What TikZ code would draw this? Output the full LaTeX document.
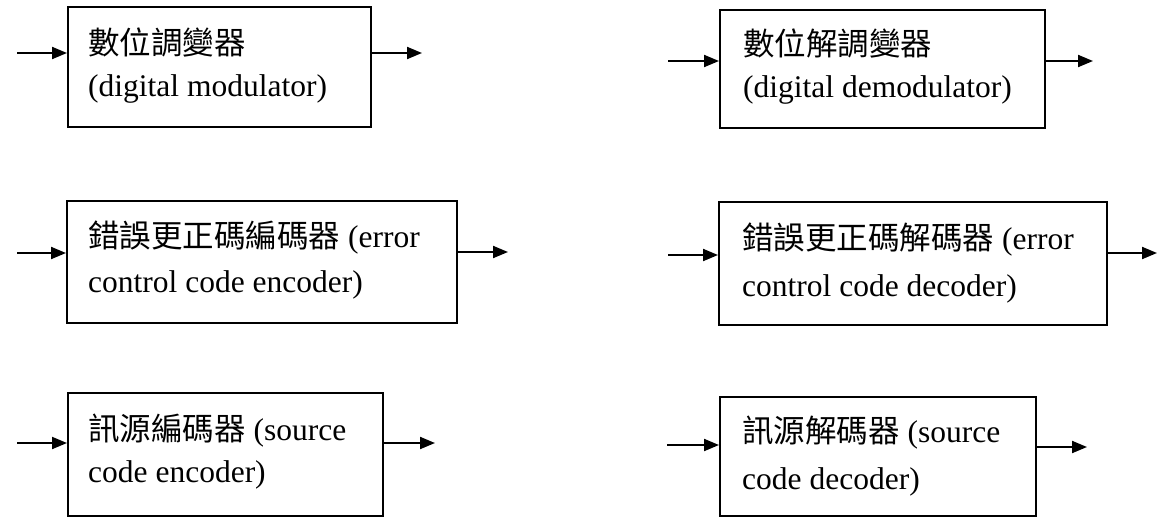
\documentclass[tikz,border=0pt]{standalone}
\usepackage{fontspec}
\setmainfont{Liberation Serif}
\newfontfamily\cjk{Noto Sans CJK TC}
\usetikzlibrary{arrows.meta}
\begin{document}
\begin{tikzpicture}[x=1pt,y=-1pt,
  blk/.style={draw, line width=2pt, rectangle, inner sep=0pt},
  txt/.style={anchor=base west, inner sep=0pt, font=\fontsize{31.5}{31.5}\selectfont},
  arr/.style={line width=2pt, -{Triangle[length=15pt,width=12pt]}}]
\useasboundingbox (0,0) rectangle (1158,517);
% boxes
\node[blk, minimum width=303pt, minimum height=120pt] (b1) at (219.5,67) {};
\node[blk, minimum width=325pt, minimum height=118pt] (b2) at (882.5,69) {};
\node[blk, minimum width=390pt, minimum height=122pt] (b3) at (262,262) {};
\node[blk, minimum width=388pt, minimum height=123pt] (b4) at (913,263.5) {};
\node[blk, minimum width=315pt, minimum height=123pt] (b5) at (225.5,454.5) {};
\node[blk, minimum width=316pt, minimum height=119pt] (b6) at (878,456.5) {};
% texts
\node[txt] (t1a) at (88,54) {{\cjk 數位調變器}};
\node[txt] (t1b) at (88,96) {(digital modulator)};
\node[txt] (t2a) at (743,55) {{\cjk 數位解調變器}};
\node[txt] (t2b) at (743,97) {(digital demodulator)};
\node[txt] (t3a) at (88,247) {{\cjk 錯誤更正碼編碼器} (error};
\node[txt] (t3b) at (88,292) {control code encoder)};
\node[txt] (t4a) at (742,249) {{\cjk 錯誤更正碼解碼器} (error};
\node[txt] (t4b) at (742,296) {control code decoder)};
\node[txt] (t5a) at (88,440) {{\cjk 訊源編碼器} (source};
\node[txt] (t5b) at (88,482) {code encoder)};
\node[txt] (t6a) at (742,442) {{\cjk 訊源解碼器} (source};
\node[txt] (t6b) at (742,489) {code decoder)};
% free ends
\coordinate (i1) at (17,53);   \coordinate (o1) at (422,53);
\coordinate (i2) at (668,61);  \coordinate (o2) at (1093,61);
\coordinate (i3) at (17,253);  \coordinate (o3) at (508,252);
\coordinate (i4) at (668,255); \coordinate (o4) at (1157,253);
\coordinate (i5) at (17,443);  \coordinate (o5) at (435,443);
\coordinate (i6) at (667,445); \coordinate (o6) at (1087,447);
% connectors
\foreach \k in {1,...,6}{
  \draw[arr] (i\k) -- (i\k -| b\k.west);
  \draw[arr] (o\k -| b\k.east) -- (o\k);
}
\end{tikzpicture}
\end{document}
